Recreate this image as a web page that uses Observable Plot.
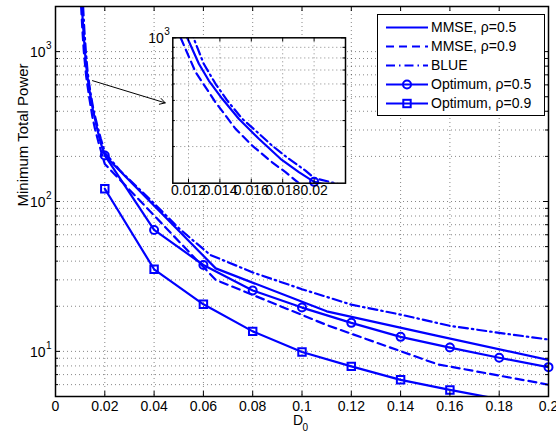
<!DOCTYPE html>
<html><head><meta charset="utf-8">
<script src="https://cdn.jsdelivr.net/npm/d3@7"></script>
<script src="https://cdn.jsdelivr.net/npm/@observablehq/plot@0.6"></script>
<style>
body{margin:0;background:#fff;}
#chart{position:relative;width:556px;height:434px;font-family:"Liberation Sans",Arial,Helvetica,sans-serif;}
#chart svg{position:absolute;left:0;top:0;background:transparent;}
</style></head><body><div id="chart"></div>
<script>
// ---- data ----
const optX   = [0.02, 0.04, 0.06, 0.08, 0.10, 0.12, 0.14, 0.16, 0.18, 0.20];
const opt05  = [203, 64.6, 37.7, 25.5, 19.6, 15.5, 12.5, 10.6, 9.07, 7.85];
const opt09  = [121.6, 35.3, 20.6, 13.6, 9.9, 7.94, 6.46, 5.53, 4.8, 4.2];
const mmse05X = [0.0107, 0.0113, 0.01192, 0.01266, 0.01329, 0.01415, 0.0152, 0.01648, 0.01786, 0.01903, 0.02, 0.065, 0.11, 0.155, 0.2];
const mmse05Y = [2000, 1400, 1000, 750, 623, 509, 408, 327, 262, 226, 203, 35.8, 18.5, 12.7, 8.75];
const mmse09X = [0.0104, 0.0109, 0.0115, 0.01245, 0.01372, 0.015, 0.01606, 0.01733, 0.01818, 0.01903, 0.02, 0.065, 0.11, 0.155, 0.2];
const mmse09Y = [2000, 1400, 1000, 684, 490, 365, 303, 252, 226, 200, 178, 30, 15, 8.2, 6.0];
const blueX = [0.0112, 0.0117, 0.01234, 0.01297, 0.01372, 0.01446, 0.01542, 0.01627, 0.01733, 0.01839, 0.01945, 0.02, 0.0263, 0.0384, 0.0506, 0.0628, 0.0803, 0.10, 0.12, 0.14, 0.16, 0.18, 0.20];
const blueY = [2000, 1400, 990, 750, 601, 500, 408, 358, 303, 262, 230, 212, 160, 103, 65, 44, 33.5, 26, 20.5, 17.6, 14.8, 13.3, 12.0];
const legendLabels = ["MMSE, ρ=0.5", "MMSE, ρ=0.9", "BLUE", "Optimum, ρ=0.5", "Optimum, ρ=0.9"];
const xTicks = [0, 0.02, 0.04, 0.06, 0.08, 0.10, 0.12, 0.14, 0.16, 0.18, 0.20];
const xTickLabels = ["0", "0.02", "0.04", "0.06", "0.08", "0.1", "0.12", "0.14", "0.16", "0.18", "0.2"];
const yMajor = [10, 100, 1000];
const yExp = ["1", "2", "3"];
const yMinor = [6, 7, 8, 9, 20, 30, 40, 50, 60, 70, 80, 90, 200, 300, 400, 500, 600, 700, 800, 900];
const insetXTicks = [0.012, 0.014, 0.016, 0.018, 0.020];
const insetXLabels = ["0.012", "0.014", "0.016", "0.018", "0.02"];
const insetYMinor = [300, 400, 500, 600, 700, 800, 900];
const insetYMajor = [1000];
const insetYExp = ["3"];
const arrowPts = [{x1: 0.015, y1: 640, x2: 0.0445, y2: 455}];
const xLabel = "D", xLabelSub = "0";
const yLabel = "Minimum Total Power";

// ---- series table ----
const BLUE_C = "#0000ff";
const series = [
  {name: legendLabels[0], xs: mmse05X, ys: mmse05Y, dash: null, symbol: null},
  {name: legendLabels[1], xs: mmse09X, ys: mmse09Y, dash: "8,5", symbol: null},
  {name: legendLabels[2], xs: blueX, ys: blueY, dash: "9,4,1.5,4", symbol: null},
  {name: legendLabels[3], xs: optX, ys: opt05, dash: null, symbol: "circle"},
  {name: legendLabels[4], xs: optX, ys: opt09, dash: null, symbol: "square"}
];
const rows = s => s.xs.map((x, i) => ({x, y: s.ys[i]}));

const W = 556, H = 434;
const grid = {stroke: "#000", strokeOpacity: 0.6, strokeDasharray: "1,3", strokeWidth: 0.8};
const FS = 14;

function seriesMarks(xd, yd) {
  const m = [];
  for (const s of series) {
    m.push(Plot.line(rows(s), {x: "x", y: "y", stroke: BLUE_C, strokeWidth: 2.2,
      strokeDasharray: s.dash || undefined, clip: true, curve: "linear"}));
  }
  for (const s of series) {
    if (!s.symbol) continue;
    const pts = rows(s).filter(d => d.x >= xd[0] && d.x <= xd[1] && d.y >= yd[0] && d.y <= yd[1]);
    m.push(Plot.dot(pts, {x: "x", y: "y", symbol: s.symbol, r: s.symbol === "square" ? 4.2 : 4,
      stroke: BLUE_C, strokeWidth: 2, fill: "none"}));
  }
  return m;
}

function inwardTicks(xt, yMaj, yMin, innerW, innerH, len, lenMinor) {
  return [
    Plot.tickX(xt, {x: d => d, insetTop: innerH - len, stroke: "#000", strokeWidth: 1}),
    Plot.tickX(xt, {x: d => d, insetBottom: innerH - len, stroke: "#000", strokeWidth: 1}),
    Plot.tickY(yMaj, {y: d => d, insetRight: innerW - len, stroke: "#000", strokeWidth: 1}),
    Plot.tickY(yMaj, {y: d => d, insetLeft: innerW - len, stroke: "#000", strokeWidth: 1}),
    Plot.tickY(yMin, {y: d => d, insetRight: innerW - lenMinor, stroke: "#000", strokeWidth: 1}),
    Plot.tickY(yMin, {y: d => d, insetLeft: innerW - lenMinor, stroke: "#000", strokeWidth: 1})
  ];
}

// ---- main plot ----
const mL = 55, mR = 8, mT = 6, mB = 38;
const iW = W - mL - mR, iH = H - mT - mB;
const xD = [0, 0.2], yD = [5, 2000];
const main = Plot.plot({
  width: W, height: H, marginLeft: mL, marginRight: mR, marginTop: mT, marginBottom: mB,
  style: {fontFamily: "Liberation Sans, Arial, sans-serif", background: "white"},
  x: {domain: xD, axis: null},
  y: {type: "log", domain: yD, axis: null},
  marks: [
    Plot.ruleY(yMinor.concat(yMajor), {y: d => d, ...grid}),
    Plot.ruleX(xTicks.slice(1, -1), {x: d => d, ...grid}),
    ...seriesMarks(xD, yD),
    Plot.arrow(arrowPts, {x1: "x1", y1: "y1", x2: "x2", y2: "y2", stroke: "#000", strokeWidth: 1, headLength: 9}),
    Plot.frame({stroke: "#000", strokeWidth: 1.5}),
    ...inwardTicks(xTicks, yMajor, yMinor, iW, iH, 5, 3),
    Plot.text(xTicks, {x: d => d, text: (d, i) => xTickLabels[i], frameAnchor: "bottom", dy: 14, fontSize: FS, fill: "#000"}),
    Plot.text(yMajor, {y: d => d, text: () => "10", frameAnchor: "left", textAnchor: "end", dx: -10, dy: 1, fontSize: FS, fill: "#000"}),
    Plot.text(yMajor, {y: d => d, text: (d, i) => yExp[i], frameAnchor: "left", textAnchor: "start", dx: -9.5, dy: -6, fontSize: 10, fill: "#000"}),
    Plot.text([xLabel], {text: d => d, frameAnchor: "bottom", dx: -4, dy: 28, fontSize: FS, fill: "#000"}),
    Plot.text([xLabelSub], {text: d => d, frameAnchor: "bottom", textAnchor: "start", dx: 0.5, dy: 34, fontSize: 10, fill: "#000"}),
    Plot.text([yLabel], {text: d => d, frameAnchor: "left", dx: -32, dy: 5, rotate: -90, fontSize: 15, fill: "#000"})
  ]
});

// ---- inset ----
const imL = 172.3, imR = W - 345, imT = 37.3, imB = H - 182.7;
const iiW = W - imL - imR, iiH = H - imT - imB;
const ixD = [0.011, 0.022], iyD = [200, 1000];
const inset = Plot.plot({
  width: W, height: H, marginLeft: imL, marginRight: imR, marginTop: imT, marginBottom: imB,
  style: {fontFamily: "Liberation Sans, Arial, sans-serif", background: "transparent"},
  x: {domain: ixD, axis: null},
  y: {type: "log", domain: iyD, axis: null},
  marks: [
    Plot.frame({fill: "white"}),
    Plot.ruleY(insetYMinor, {y: d => d, ...grid}),
    Plot.ruleX(insetXTicks, {x: d => d, ...grid}),
    ...seriesMarks(ixD, iyD),
    Plot.frame({stroke: "#000", strokeWidth: 1.5}),
    ...inwardTicks(insetXTicks, insetYMajor, insetYMinor, iiW, iiH, 4, 2.5),
    Plot.text(insetXTicks, {x: d => d, text: (d, i) => insetXLabels[i], frameAnchor: "bottom", dy: 12, fontSize: FS, fill: "#000"}),
    Plot.text(insetYMajor, {y: d => d, text: () => "10", frameAnchor: "left", textAnchor: "end", dx: -9, dy: 1, fontSize: FS, fill: "#000"}),
    Plot.text(insetYMajor, {y: d => d, text: (d, i) => insetYExp[i], frameAnchor: "left", textAnchor: "start", dx: -8.5, dy: -6, fontSize: 10, fill: "#000"})
  ]
});

const host = document.getElementById("chart");
host.appendChild(main);
inset.style.pointerEvents = "none";
host.appendChild(inset);

// ---- legend ----
const lg = d3.select(host).append("svg").attr("width", W).attr("height", H)
  .style("font-family", "Liberation Sans, Arial, sans-serif");
lg.append("rect").attr("x", 377.5).attr("y", 14.5).attr("width", 167).attr("height", 101)
  .attr("fill", "white").attr("stroke", "#000").attr("stroke-width", 1);
series.forEach((s, i) => {
  const y = 27.5 + 19 * i;
  lg.append("line").attr("x1", 386).attr("x2", 428).attr("y1", y).attr("y2", y)
    .attr("stroke", BLUE_C).attr("stroke-width", 2.2).attr("stroke-dasharray", s.dash);
  if (s.symbol === "circle") lg.append("circle").attr("cx", 407).attr("cy", y).attr("r", 4)
    .attr("fill", "none").attr("stroke", BLUE_C).attr("stroke-width", 2);
  if (s.symbol === "square") lg.append("rect").attr("x", 403.3).attr("y", y - 3.7).attr("width", 7.4).attr("height", 7.4)
    .attr("fill", "none").attr("stroke", BLUE_C).attr("stroke-width", 2);
  lg.append("text").attr("x", 431).attr("y", y).attr("dy", "0.35em").attr("font-size", 14).attr("fill", "#000").text(s.name);
});
</script></body></html>
